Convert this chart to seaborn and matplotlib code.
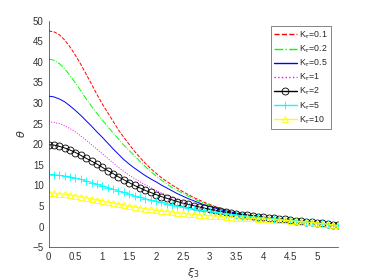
import numpy as np
import matplotlib
matplotlib.use('Agg')
import matplotlib.pyplot as plt
import seaborn as sns

# xi_3 grid, step 0.1
xi = np.round(np.arange(0, 5.45, 0.1), 1)

labels = [r'K$_\tau$=0.1', r'K$_\tau$=0.2', r'K$_\tau$=0.5', r'K$_\tau$=1',
          r'K$_\tau$=2', r'K$_\tau$=5', r'K$_\tau$=10']

theta_01 = [47.5, 47.3, 46.6, 45.3, 43.6, 41.6, 39.4, 37.0, 34.6, 32.1,
            29.8, 27.7, 25.6, 23.5, 21.7, 20.0, 18.3, 16.8, 15.4, 14.1,
            13.0, 11.9, 11.0, 10.1, 9.3, 8.5, 7.8, 7.1, 6.5, 5.9,
            5.4, 4.9, 4.5, 4.1, 3.7, 3.4, 3.1, 2.9, 2.7, 2.5,
            2.3, 2.15, 2.0, 1.87, 1.74, 1.6, 1.47, 1.34, 1.21, 1.08,
            0.95, 0.8, 0.65, 0.48, 0.3]
theta_02 = [40.7, 40.4, 39.6, 38.3, 36.7, 34.9, 33.0, 31.0, 29.2, 27.5,
            25.9, 24.3, 22.8, 21.3, 19.8, 18.5, 17.2, 15.9, 14.6, 13.4,
            12.3, 11.3, 10.4, 9.5, 8.8, 8.1, 7.4, 6.8, 6.2, 5.7,
            5.2, 4.7, 4.3, 3.9, 3.6, 3.3, 3.0, 2.8, 2.6, 2.4,
            2.25, 2.1, 1.97, 1.84, 1.71, 1.58, 1.45, 1.32, 1.19, 1.06,
            0.93, 0.78, 0.63, 0.47, 0.3]
theta_05 = [31.7, 31.5, 31.0, 30.3, 29.3, 28.2, 27.0, 25.7, 24.4, 23.0,
            21.7, 20.3, 18.9, 17.6, 16.3, 15.2, 14.2, 13.3, 12.4, 11.6,
            10.9, 10.1, 9.4, 8.7, 8.0, 7.4, 6.8, 6.3, 5.8, 5.3,
            4.9, 4.5, 4.1, 3.8, 3.5, 3.2, 3.0, 2.8, 2.6, 2.4,
            2.25, 2.1, 1.97, 1.84, 1.71, 1.58, 1.45, 1.32, 1.19, 1.06,
            0.93, 0.78, 0.63, 0.47, 0.3]
theta_1 = [25.5, 25.3, 25.0, 24.5, 23.8, 23.0, 22.0, 21.0, 19.9, 18.8,
           17.7, 16.6, 15.5, 14.4, 13.4, 12.5, 11.7, 10.9, 10.2, 9.5,
           8.8, 8.2, 7.6, 7.1, 6.6, 6.1, 5.7, 5.3, 4.9, 4.6,
           4.3, 4.0, 3.7, 3.5, 3.3, 3.1, 2.9, 2.7, 2.55, 2.4,
           2.25, 2.1, 1.97, 1.84, 1.71, 1.58, 1.45, 1.32, 1.19, 1.06,
           0.93, 0.78, 0.63, 0.47, 0.3]
theta_2 = [19.9, 19.8, 19.5, 19.1, 18.6, 18.0, 17.3, 16.6, 15.9, 15.2,
           14.4, 13.6, 12.9, 12.1, 11.4, 10.7, 10.0, 9.4, 8.8, 8.3,
           7.8, 7.3, 6.9, 6.5, 6.1, 5.7, 5.4, 5.1, 4.8, 4.5,
           4.2, 4.0, 3.7, 3.5, 3.3, 3.1, 2.9, 2.75, 2.6, 2.45,
           2.3, 2.15, 2.0, 1.87, 1.74, 1.6, 1.47, 1.34, 1.21, 1.08,
           0.95, 0.8, 0.65, 0.48, 0.3]
theta_5 = [12.7, 12.6, 12.5, 12.3, 12.1, 11.8, 11.5, 11.1, 10.7, 10.3,
           9.9, 9.5, 9.1, 8.7, 8.3, 7.9, 7.5, 7.1, 6.8, 6.5,
           6.2, 5.9, 5.6, 5.3, 5.0, 4.8, 4.5, 4.3, 4.1, 3.9,
           3.7, 3.5, 3.3, 3.15, 3.0, 2.85, 2.7, 2.6, 2.45, 2.35,
           2.2, 2.08, 1.96, 1.84, 1.71, 1.58, 1.45, 1.32, 1.19, 1.06,
           0.93, 0.78, 0.63, 0.47, 0.3]
theta_10 = [8.2, 8.15, 8.0, 7.9, 7.7, 7.5, 7.3, 7.0, 6.8, 6.5,
            6.3, 6.0, 5.8, 5.5, 5.3, 5.0, 4.8, 4.6, 4.4, 4.2,
            4.0, 3.85, 3.7, 3.55, 3.4, 3.25, 3.1, 3.0, 2.9, 2.8,
            2.7, 2.6, 2.5, 2.4, 2.3, 2.2, 2.1, 2.05, 2.0, 1.9,
            1.85, 1.78, 1.7, 1.62, 1.53, 1.44, 1.34, 1.24, 1.13, 1.02,
            0.9, 0.76, 0.62, 0.46, 0.28]

series = [theta_01, theta_02, theta_05, theta_1, theta_2, theta_5, theta_10]
colors = ['#ff0000', '#00ff00', '#0000ff', '#ff00ff', '#000000', '#00ffff', '#ffff00']
styles = ['--', '-.', '-', ':', '-', '-', '-']
marks = [None, None, None, None, 'o', '+', '^']
msizes = [4, 4, 4, 4, 5, 6, 5]

sns.set_style('white')
plt.rcParams['font.family'] = ['Liberation Sans', 'DejaVu Sans']

fig = plt.figure(figsize=(3.74, 2.8), dpi=100)
ax = fig.add_axes([0.13, 0.117, 0.775, 0.809])

for lab, vals, c, ls, m, ms in zip(labels, series, colors, styles, marks, msizes):
    sns.lineplot(x=xi, y=vals, ax=ax, color=c, linestyle=ls, marker=m,
                 markersize=ms, markerfacecolor='none', markeredgecolor=c,
                 markeredgewidth=0.6, linewidth=0.7, label=lab)

gray = '#333333'
ax.set_xlim(0, 5.4)
ax.set_ylim(-5, 50)
xt = np.arange(0, 5.01, 0.5)
ax.set_xticks(xt)
ax.set_xticklabels([('%g' % t) for t in xt])
ax.set_yticks(np.arange(-5, 51, 5))
ax.tick_params(direction='in', length=3, width=0.5, labelsize=7, colors=gray)
sns.despine(ax=ax)
for s in ['left', 'bottom']:
    ax.spines[s].set_linewidth(0.5)
    ax.spines[s].set_color(gray)

ax.set_xlabel(r'$\xi_3$', fontsize=8, color=gray)
ax.set_ylabel(r'$\theta$', fontsize=8, color=gray)
ax.xaxis.set_label_coords(0.5, -0.085)
ax.yaxis.set_label_coords(-0.075, 0.5)

leg = ax.legend(loc='upper right', bbox_to_anchor=(0.975, 0.975), fontsize=6.3,
                frameon=True, fancybox=False, edgecolor='#555555', framealpha=1,
                handlelength=2.6, labelspacing=0.3, borderpad=0.35,
                handletextpad=0.3, borderaxespad=0)
leg.get_frame().set_linewidth(0.5)
for h in leg.get_lines():
    h.set_linewidth(1.0)

fig.savefig('out.png', dpi=100)
